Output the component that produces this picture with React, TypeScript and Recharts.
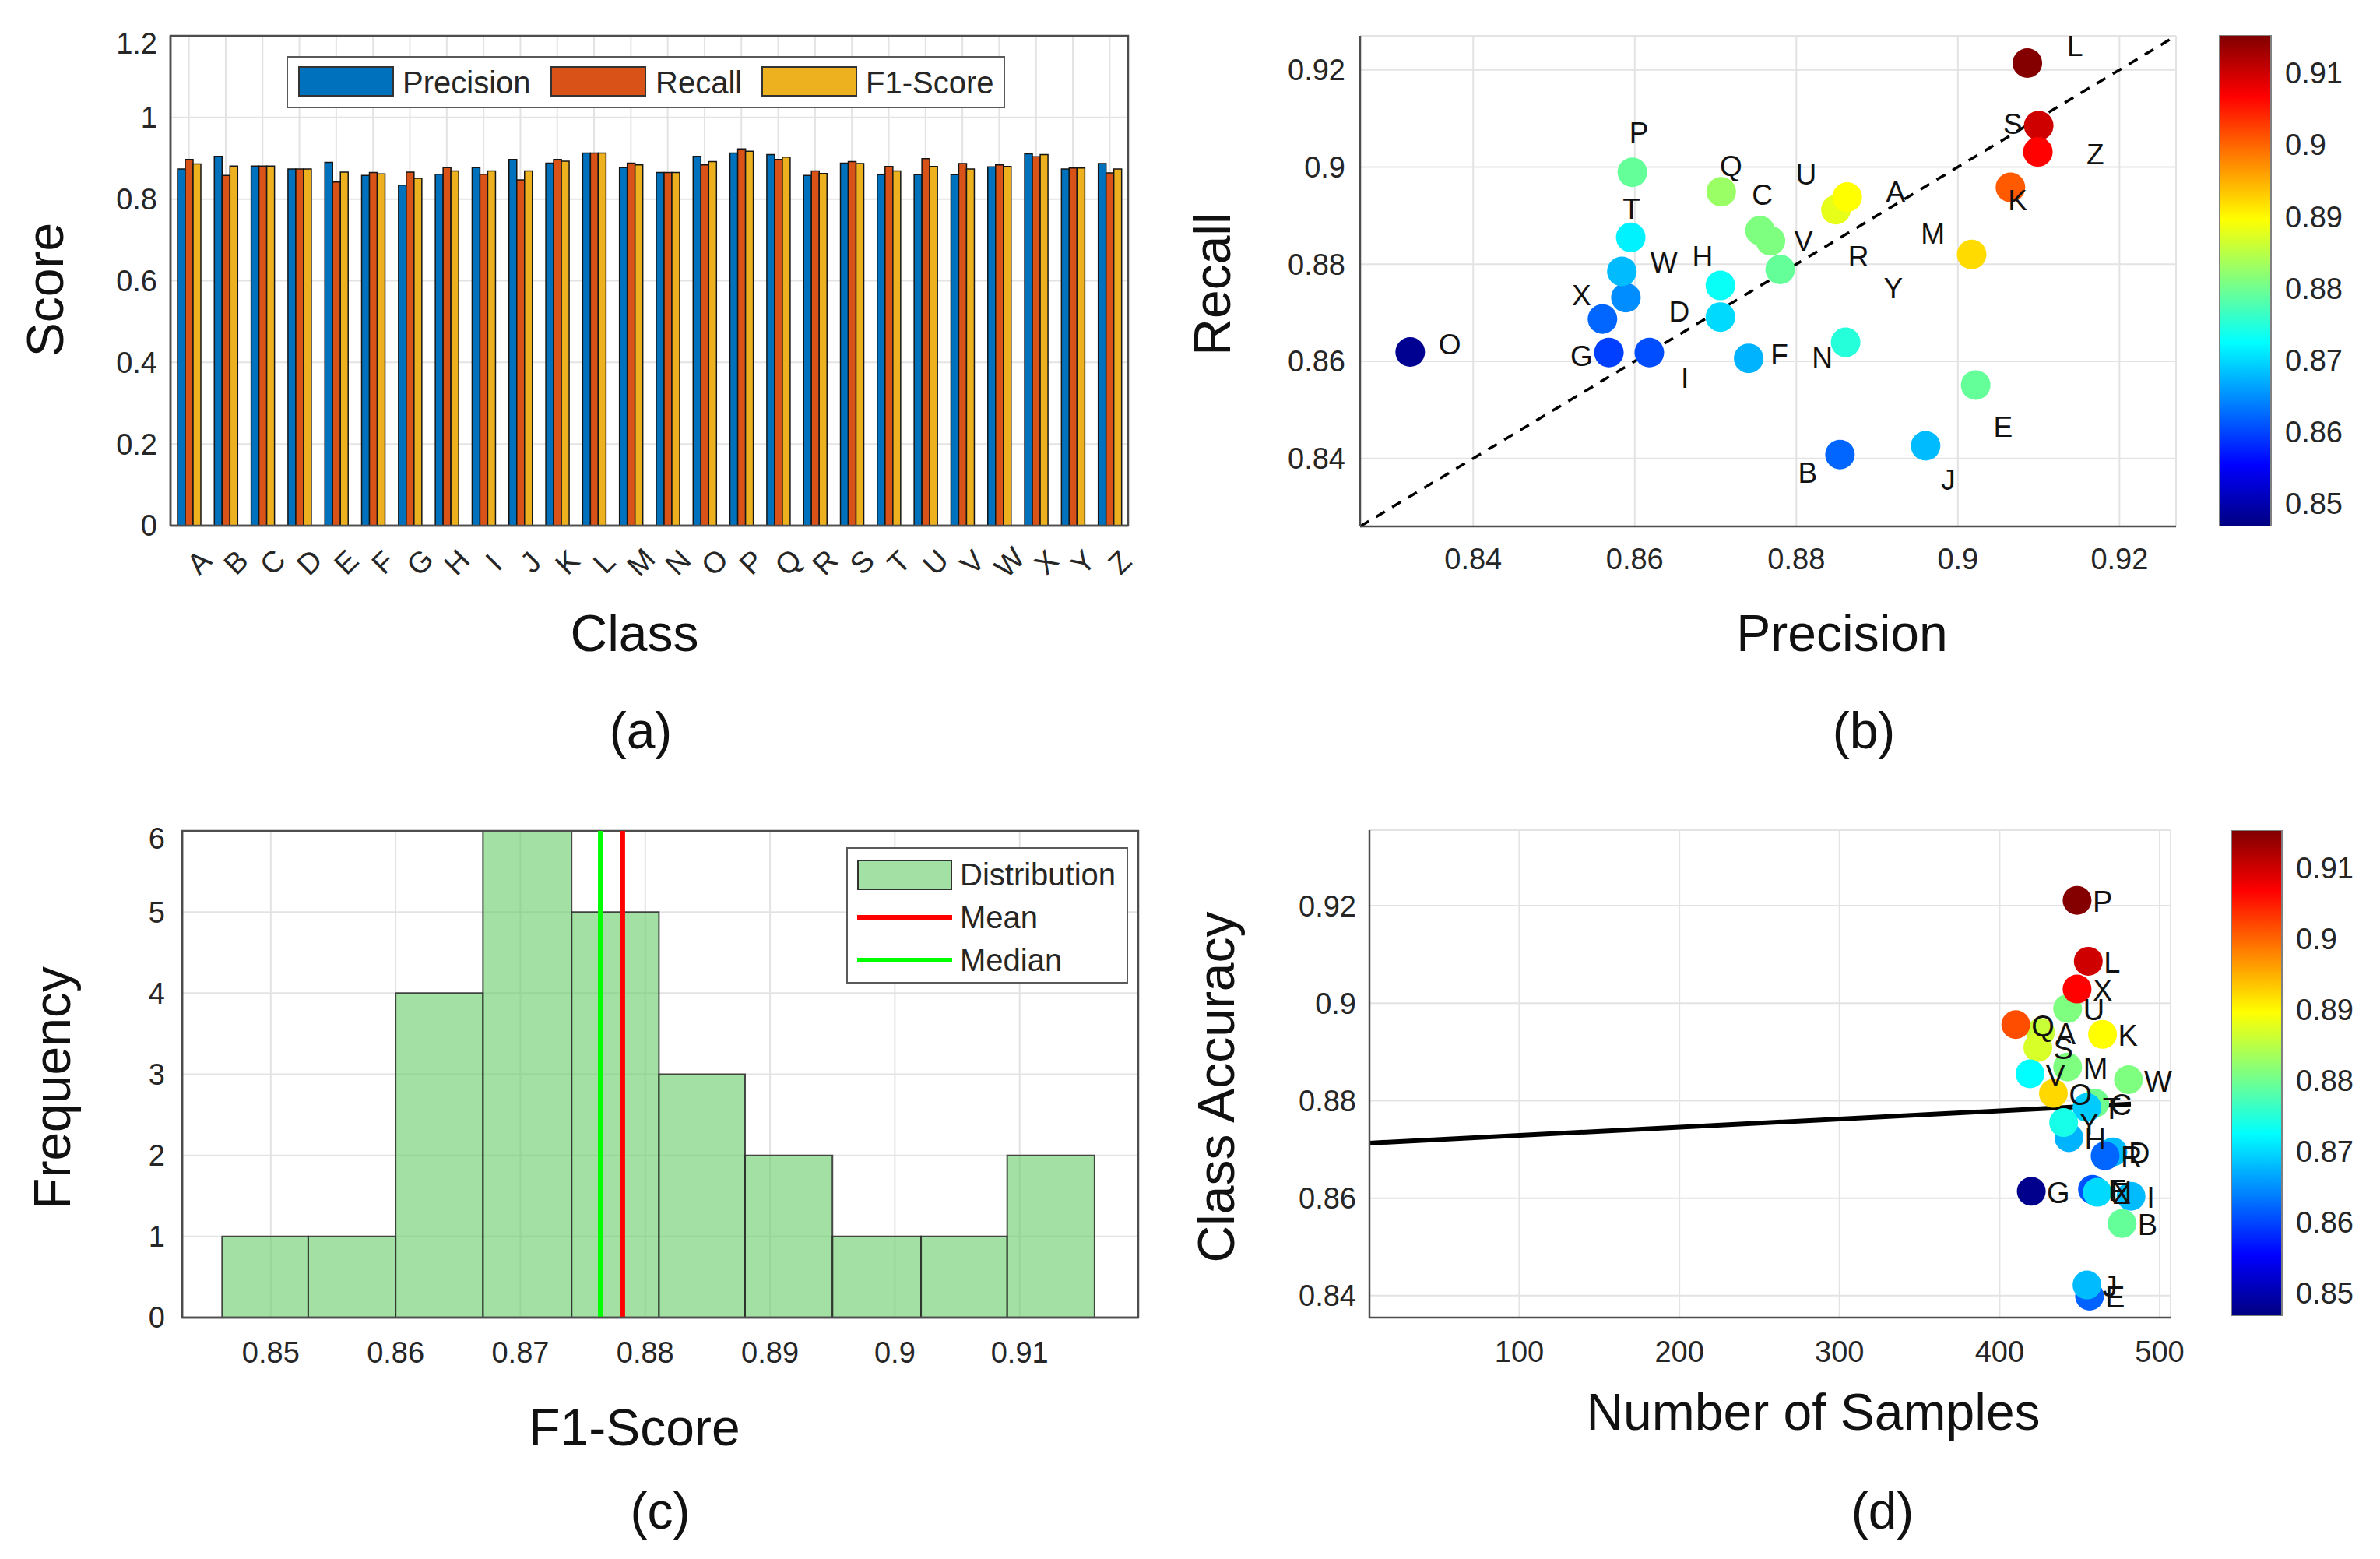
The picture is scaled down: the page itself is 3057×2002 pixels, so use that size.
import React from 'react';
import {
  ComposedChart,
  Bar,
  Scatter,
  Line,
  XAxis,
  YAxis,
  CartesianGrid,
  ReferenceArea,
  ReferenceLine,
} from 'recharts';

// ---- shared data ----
const classes = ['A', 'B', 'C', 'D', 'E', 'F', 'G', 'H', 'I', 'J', 'K', 'L', 'M', 'N', 'O', 'P', 'Q', 'R', 'S', 'T', 'U', 'V', 'W', 'X', 'Y', 'Z'];

// (a) per-class scores
const precision = [0.874, 0.905, 0.881, 0.874, 0.890, 0.858, 0.834, 0.861, 0.877, 0.897, 0.888, 0.913, 0.877, 0.865, 0.905, 0.913, 0.909, 0.858, 0.888, 0.860, 0.860, 0.860, 0.879, 0.911, 0.874, 0.887];
const recall = [0.897, 0.858, 0.881, 0.874, 0.842, 0.865, 0.866, 0.877, 0.861, 0.847, 0.897, 0.913, 0.888, 0.865, 0.884, 0.923, 0.897, 0.869, 0.892, 0.880, 0.899, 0.887, 0.884, 0.904, 0.876, 0.864];
const f1Score = [0.886, 0.881, 0.881, 0.874, 0.866, 0.862, 0.851, 0.869, 0.869, 0.869, 0.893, 0.913, 0.884, 0.865, 0.892, 0.917, 0.903, 0.863, 0.887, 0.869, 0.880, 0.874, 0.880, 0.909, 0.876, 0.874];
const scoreTicks = [0, 0.2, 0.4, 0.6, 0.8, 1, 1.2];

// (b) precision vs recall scatter (colour = F1)
const bPrecision = [0.8322, 0.8568, 0.8618, 0.8560, 0.8589, 0.8584, 0.8595, 0.8597, 0.8707, 0.8706, 0.8706, 0.8741, 0.8755, 0.8768, 0.8780, 0.8861, 0.8854, 0.8849, 0.8863, 0.8960, 0.9017, 0.9022, 0.9065, 0.9100, 0.9099, 0.9086];
const bRecall = [0.8619, 0.8618, 0.8618, 0.8687, 0.8731, 0.8785, 0.8855, 0.8989, 0.8949, 0.8756, 0.8691, 0.8606, 0.8869, 0.8848, 0.8789, 0.8639, 0.8408, 0.8912, 0.8938, 0.8426, 0.8820, 0.8551, 0.8958, 0.9085, 0.9031, 0.9214];
const bF1 = [0.848, 0.8596, 0.8605, 0.8622, 0.8648, 0.868, 0.8716, 0.8793, 0.8828, 0.873, 0.870, 0.8674, 0.881, 0.881, 0.8793, 0.875, 0.8622, 0.888, 0.8896, 0.868, 0.892, 0.8793, 0.9007, 0.910, 0.9067, 0.915];
const bLabelText = ['L', 'S', 'Z', 'P', 'Q', 'U', 'C', 'A', 'K', 'T', 'M', 'V', 'W', 'H', 'R', 'Y', 'X', 'D', 'O', 'G', 'F', 'N', 'I', 'E', 'B', 'J'];
const bLabelX = [0.9145, 0.9068, 0.9170, 0.8605, 0.8719, 0.8812, 0.8758, 0.8923, 0.9074, 0.8596, 0.8969, 0.8809, 0.8636, 0.8684, 0.8877, 0.8920, 0.8534, 0.8655, 0.8371, 0.8534, 0.8779, 0.8832, 0.8662, 0.9056, 0.8814, 0.8988];
const bLabelY = [0.9249, 0.9088, 0.9026, 0.9071, 0.9001, 0.8984, 0.8942, 0.8949, 0.8931, 0.8914, 0.8862, 0.8848, 0.8802, 0.8816, 0.8816, 0.8750, 0.8736, 0.8701, 0.8635, 0.8611, 0.8614, 0.8607, 0.8565, 0.8464, 0.8370, 0.8356];
const prTicks = [0.84, 0.86, 0.88, 0.9, 0.92];

// (c) histogram of F1
const binEdges = [0.8461, 0.8530, 0.8600, 0.8670, 0.8741, 0.8811, 0.8880, 0.8950, 0.9021, 0.9090, 0.9160];
const binCounts = [1, 1, 4, 6, 5, 3, 2, 1, 1, 2];
const f1Mean = 0.8782;
const f1Median = 0.8764;
const f1Ticks = [0.85, 0.86, 0.87, 0.88, 0.89, 0.9, 0.91];
const freqTicks = [0, 1, 2, 3, 4, 5, 6];

// (d) samples vs class accuracy (colour = F1), class order A..Z
const dSamples = [425.5, 476.5, 459.5, 470.8, 456.2, 458.0, 419.8, 443.3, 482.1, 454.6, 464.3, 455.4, 442.5, 459.5, 433.6, 448.4, 410.1, 465.9, 423.9, 454.6, 442.5, 419.0, 480.5, 448.4, 440.0, 461.0];
const dAccuracy = [0.8940, 0.8548, 0.8795, 0.8695, 0.8399, 0.8618, 0.8614, 0.8724, 0.8604, 0.8422, 0.8936, 0.9086, 0.8869, 0.8615, 0.8815, 0.9211, 0.8956, 0.8687, 0.8909, 0.8786, 0.8989, 0.8855, 0.8843, 0.9029, 0.8755, 0.8612];
const dF1 = [0.886, 0.8793, 0.880, 0.868, 0.862, 0.861, 0.8477, 0.8674, 0.868, 0.868, 0.8896, 0.910, 0.881, 0.8605, 0.8922, 0.915, 0.9016, 0.8622, 0.887, 0.869, 0.881, 0.8725, 0.881, 0.9067, 0.874, 0.870];
const fitSamples = [6.4, 482];
const fitAccuracy = [0.8713, 0.8793];
const sampleTicks = [100, 200, 300, 400, 500];

// colour bar
const cMin = 0.8468;
const cMax = 0.9153;
const cbTicks = [0.85, 0.86, 0.87, 0.88, 0.89, 0.9, 0.91];

// ---- styling helpers ----
const FONT = '"Liberation Sans", Arial, Helvetica, sans-serif';
const AX = '#262626';
const AXLINE = '#4d4d4d';
const GRID = '#e3e3e3';
const TICK = { fontSize: 38, fill: AX };

const jetT = (t: number) => {
  const c = (x: number) => Math.round(255 * Math.min(1, Math.max(0, 1.5 - Math.abs(4 * t - x))));
  return `rgb(${c(3)},${c(2)},${c(1)})`;
};
const jet = (v: number) => jetT(Math.min(1, Math.max(0, (v - cMin) / (cMax - cMin))));

function frame(L: number, T: number, R: number, B: number, ml: number, mb: number, mt = 12, mr = 60) {
  return {
    style: { position: 'absolute' as const, left: L - ml, top: T - mt },
    width: R - L + ml + mr,
    height: B - T + mt + mb,
    margin: { top: mt, right: mr, bottom: 0, left: 0 },
    ml,
    mb,
  };
}

function Label({ x, y, size = 66, rot = 0, children }: any) {
  return (
    <div
      style={{
        position: 'absolute',
        left: x,
        top: y,
        transform: `translate(-50%, -50%) rotate(${rot}deg)`,
        fontSize: size,
        lineHeight: 1,
        whiteSpace: 'nowrap',
        color: '#111',
      }}
    >
      {children}
    </div>
  );
}

const LetterTick = (p: any) => {
  const cx = p.x + 13;
  const cy = p.y + 47;
  return (
    <text x={cx} y={cy} textAnchor="middle" dominantBaseline="central" fontSize={38} fill={AX} transform={`rotate(-45 ${cx} ${cy})`}>
      {p.payload.value}
    </text>
  );
};

const Dot = (r: number) => (p: any) => <circle cx={p.cx} cy={p.cy} r={r} fill={p.payload.color} />;

// ---- panels ----
function PanelA() {
  const f = frame(219, 46, 1449, 675, 219, 120, 12, 12);
  const data = classes.map((c, i) => ({ cls: c, precision: precision[i], recall: recall[i], f1: f1Score[i] }));
  const barStroke = { stroke: '#151515', strokeWidth: 1.5, isAnimationActive: false };
  return (
    <div style={f.style}>
      <ComposedChart width={f.width} height={f.height} margin={f.margin} data={data} barCategoryGap="19%" barGap={0}>
        <CartesianGrid stroke={GRID} strokeWidth={2} />
        <XAxis dataKey="cls" interval={0} height={f.mb} tickSize={0} tickMargin={0} tick={<LetterTick />} tickLine={false} axisLine={{ stroke: AXLINE, strokeWidth: 2.5 }} />
        <YAxis type="number" domain={[0, 1.2]} ticks={scoreTicks} width={f.ml} tickSize={0} tickMargin={17} tick={TICK} tickLine={false} axisLine={{ stroke: AXLINE, strokeWidth: 2.5 }} />
        <Bar dataKey="precision" fill="#0072BD" {...barStroke} />
        <Bar dataKey="recall" fill="#D95319" {...barStroke} />
        <Bar dataKey="f1" fill="#EDB120" {...barStroke} />
        <ReferenceArea y1={0} y2={1.2} fill="none" stroke={AXLINE} strokeWidth={2.5} ifOverflow="visible" />
      </ComposedChart>
    </div>
  );
}

function LegendA() {
  const items = [
    { name: 'Precision', color: '#0072BD', sw: 381, tx: 515 },
    { name: 'Recall', color: '#D95319', sw: 705, tx: 840 },
    { name: 'F1-Score', color: '#EDB120', sw: 976, tx: 1110 },
  ];
  return (
    <div style={{ position: 'absolute', left: 368, top: 72, width: 923, height: 67, border: '2.5px solid #5a5a5a', background: '#fff', boxSizing: 'border-box' }}>
      {items.map((it) => (
        <React.Fragment key={it.name}>
          <div style={{ position: 'absolute', left: it.sw - 368, top: 11, width: 123, height: 39, background: it.color, border: '2px solid #333', boxSizing: 'border-box' }} />
          <div style={{ position: 'absolute', left: it.tx - 368, top: 12, fontSize: 40, lineHeight: '40px', color: AX }}>{it.name}</div>
        </React.Fragment>
      ))}
    </div>
  );
}

function PanelB() {
  const f = frame(1747, 46, 2795, 676, 200, 110, 12, 40);
  const pts = bPrecision.map((x, i) => ({ x, y: bRecall[i], color: jet(bF1[i]) }));
  const labels = bLabelText.map((name, i) => ({ x: bLabelX[i], y: bLabelY[i], name }));
  const diag = [{ x: 0.826, y: 0.826 }, { x: 0.927, y: 0.927 }];
  return (
    <div style={f.style}>
      <ComposedChart width={f.width} height={f.height} margin={f.margin}>
        <CartesianGrid stroke={GRID} strokeWidth={2} />
        <XAxis type="number" dataKey="x" domain={[0.826, 0.927]} ticks={prTicks} height={f.mb} tickSize={0} tickMargin={28} tick={TICK} tickLine={false} axisLine={{ stroke: AXLINE, strokeWidth: 2.5 }} />
        <YAxis type="number" dataKey="y" domain={[0.826, 0.927]} ticks={prTicks} width={f.ml} tickSize={0} tickMargin={19} tick={TICK} tickLine={false} axisLine={{ stroke: AXLINE, strokeWidth: 2.5 }} />
        <Line data={diag} dataKey="y" stroke="#000" strokeWidth={3.5} strokeDasharray="13 11" dot={false} isAnimationActive={false} />
        <Scatter data={pts} shape={Dot(19)} isAnimationActive={false} />
        <Scatter
          data={labels}
          isAnimationActive={false}
          shape={(p: any) => (
            <text x={p.cx} y={p.cy} textAnchor="middle" dominantBaseline="central" fontSize={37} fill="#111">
              {p.payload.name}
            </text>
          )}
        />
      </ComposedChart>
    </div>
  );
}

function ColorBar({ id, L, T, R, B }: any) {
  const W = 120;
  const stops = Array.from({ length: 17 }, (_, i) => ({ off: i / 16, color: jetT(1 - i / 16) }));
  return (
    <div style={{ position: 'absolute', left: L, top: T }}>
      <ComposedChart width={R - L + W} height={B - T} margin={{ top: 0, right: 0, bottom: 0, left: 0 }} data={[{ k: 'c', range: [cMin, cMax] }]} barCategoryGap={0}>
        <defs>
          <linearGradient id={id} x1="0" y1="0" x2="0" y2="1">
            {stops.map((s) => (
              <stop key={s.off} offset={s.off} stopColor={s.color} />
            ))}
          </linearGradient>
        </defs>
        <XAxis dataKey="k" hide />
        <YAxis orientation="right" type="number" domain={[cMin, cMax]} ticks={cbTicks} width={W} tickSize={0} tickMargin={18} tick={TICK} axisLine={false} tickLine={false} />
        <Bar dataKey="range" fill={`url(#${id})`} stroke="#808080" strokeWidth={2} isAnimationActive={false} />
      </ComposedChart>
    </div>
  );
}

function PanelC() {
  const f = frame(234, 1067, 1462, 1692, 234, 110, 12, 40);
  const bins = binCounts.map((n, i) => ({ x: (binEdges[i] + binEdges[i + 1]) / 2, y: n }));
  return (
    <div style={f.style}>
      <ComposedChart width={f.width} height={f.height} margin={f.margin}>
        <CartesianGrid stroke={GRID} strokeWidth={2} />
        <XAxis type="number" dataKey="x" domain={[0.8429, 0.9195]} ticks={f1Ticks} height={f.mb} tickSize={0} tickMargin={31} tick={TICK} tickLine={false} axisLine={{ stroke: AXLINE, strokeWidth: 2.5 }} />
        <YAxis type="number" dataKey="y" domain={[0, 6]} ticks={freqTicks} width={f.ml} tickSize={0} tickMargin={22} tick={TICK} tickLine={false} axisLine={{ stroke: AXLINE, strokeWidth: 2.5 }} />
        <Scatter data={bins} shape={() => <g />} isAnimationActive={false} />
        {binCounts.map((n, i) => (
          <ReferenceArea key={i} x1={binEdges[i]} x2={binEdges[i + 1]} y1={0} y2={n} fill="#66cc66" fillOpacity={0.6} stroke="#2b2b2b" strokeOpacity={0.85} strokeWidth={2} ifOverflow="visible" />
        ))}
        <ReferenceLine x={f1Median} stroke="#00ff00" strokeWidth={6} ifOverflow="visible" />
        <ReferenceLine x={f1Mean} stroke="#ff0000" strokeWidth={6} ifOverflow="visible" />
        <ReferenceArea y1={0} y2={6} fill="none" stroke={AXLINE} strokeWidth={2.5} ifOverflow="visible" />
      </ComposedChart>
    </div>
  );
}

function LegendC() {
  const L = 1087;
  const T = 1088;
  return (
    <div style={{ position: 'absolute', left: L, top: T, width: 362, height: 175, border: '2.5px solid #5a5a5a', background: '#fff', boxSizing: 'border-box' }}>
      <div style={{ position: 'absolute', left: 1099 - L, top: 1102 - T, width: 122, height: 39, background: '#a3e0a3', border: '2px solid #333', boxSizing: 'border-box' }} />
      <div style={{ position: 'absolute', left: 1099 - L, top: 1173 - T, width: 122, height: 6, background: '#ff0000' }} />
      <div style={{ position: 'absolute', left: 1099 - L, top: 1228 - T, width: 122, height: 6, background: '#00ff00' }} />
      {[
        { t: 'Distribution', y: 1121 },
        { t: 'Mean', y: 1176 },
        { t: 'Median', y: 1231 },
      ].map((r) => (
        <div key={r.t} style={{ position: 'absolute', left: 1231 - L, top: r.y - T - 20, fontSize: 40, lineHeight: '40px', color: AX }}>
          {r.t}
        </div>
      ))}
    </div>
  );
}

function PanelD() {
  const f = frame(1759, 1066, 2788, 1692, 200, 110, 12, 60);
  const pts = classes.map((c, i) => ({ x: dSamples[i], y: dAccuracy[i], name: c, color: jet(dF1[i]) }));
  const fit = fitSamples.map((x, i) => ({ x, y: fitAccuracy[i] }));
  return (
    <div style={f.style}>
      <ComposedChart width={f.width} height={f.height} margin={f.margin}>
        <CartesianGrid stroke={GRID} strokeWidth={2} />
        <XAxis type="number" dataKey="x" domain={[6.4, 506.8]} ticks={sampleTicks} height={f.mb} tickSize={0} tickMargin={30} tick={TICK} tickLine={false} axisLine={{ stroke: AXLINE, strokeWidth: 2.5 }} />
        <YAxis type="number" dataKey="y" domain={[0.8355, 0.9355]} ticks={prTicks} width={f.ml} tickSize={0} tickMargin={17} tick={TICK} tickLine={false} axisLine={{ stroke: AXLINE, strokeWidth: 2.5 }} />
        <Scatter data={pts} shape={Dot(18.5)} isAnimationActive={false} />
        <Line data={fit} dataKey="y" stroke="#000" strokeWidth={6} dot={false} isAnimationActive={false} />
        <Scatter
          data={pts}
          isAnimationActive={false}
          shape={(p: any) => (
            <text x={p.cx + 20} y={p.cy + 2} textAnchor="start" dominantBaseline="central" fontSize={38} fill="#111">
              {p.payload.name}
            </text>
          )}
        />
      </ComposedChart>
    </div>
  );
}

export default function App() {
  return (
    <div style={{ position: 'relative', width: 3057, height: 2002, background: '#fff', fontFamily: FONT, overflow: 'hidden' }}>
      <style>{'body{margin:0}'}</style>
      <PanelA />
      <LegendA />
      <Label x={58} y={372} rot={-90}>Score</Label>
      <Label x={815} y={813}>Class</Label>
      <Label x={823} y={938}>(a)</Label>

      <PanelB />
      <ColorBar id="jet-b" L={2850} T={45} R={2917} B={676} />
      <Label x={1557} y={365} rot={-90}>Recall</Label>
      <Label x={2366} y={813}>Precision</Label>
      <Label x={2394} y={938}>(b)</Label>

      <PanelC />
      <LegendC />
      <Label x={67} y={1397} rot={-90}>Frequency</Label>
      <Label x={815} y={1833}>F1-Score</Label>
      <Label x={848} y={1940}>(c)</Label>

      <PanelD />
      <ColorBar id="jet-d" L={2866} T={1066} R={2931} B={1690} />
      <Label x={1562} y={1396} rot={-90}>Class Accuracy</Label>
      <Label x={2329} y={1813}>Number of Samples</Label>
      <Label x={2418} y={1940}>(d)</Label>
    </div>
  );
}
